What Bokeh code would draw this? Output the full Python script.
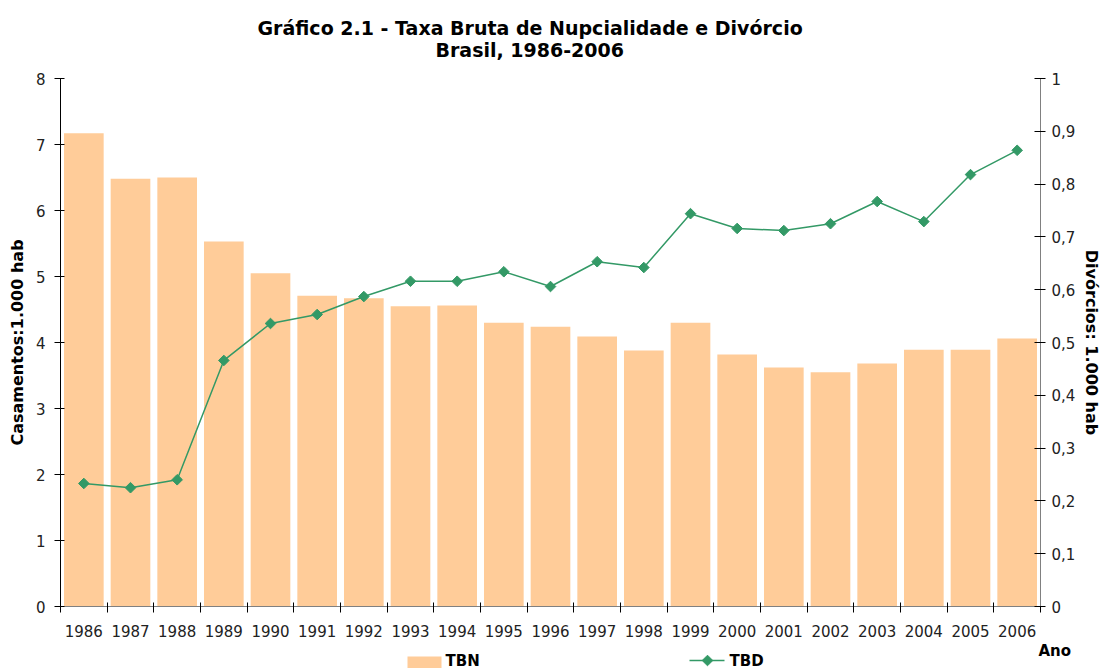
import numpy as np
from bokeh.plotting import figure
from bokeh.layouts import column
from bokeh.models import (Range1d, LinearAxis, FixedTicker, CustomJSTickFormatter,
                          Title, ColumnDataSource)
from bokeh.core.properties import value
from bokeh.embed import file_html
from bokeh.resources import INLINE

years = ["1986", "1987", "1988", "1989", "1990", "1991", "1992", "1993", "1994", "1995",
         "1996", "1997", "1998", "1999", "2000", "2001", "2002", "2003", "2004", "2005", "2006"]
tbn = [7.17, 6.48, 6.50, 5.53, 5.05, 4.71, 4.67, 4.55, 4.56, 4.30,
       4.24, 4.09, 3.88, 4.30, 3.82, 3.62, 3.55, 3.68, 3.89, 3.89, 4.06]
tbd = [0.233, 0.225, 0.240, 0.466, 0.536, 0.553, 0.587, 0.616, 0.616, 0.634,
       0.606, 0.653, 0.642, 0.744, 0.716, 0.712, 0.725, 0.767, 0.729, 0.818, 0.864]
left_ticks = [0, 1, 2, 3, 4, 5, 6, 7, 8]
right_ticks = [0, 0.1, 0.2, 0.3, 0.4, 0.5, 0.6, 0.7, 0.8, 0.9, 1.0]
series_names = ["TBN", "TBD"]
x_title = "Ano"

n = len(years)
centers = [i + 0.5 for i in range(n)]
bounds = list(range(n + 1))
src = ColumnDataSource(dict(x=centers, tbn=tbn, tbd=tbd))

FONT = "DejaVu Sans"
BAR = "#FFCC99"
GREEN = "#339966"

p = figure(width=1105, height=642, output_backend="svg", toolbar_location=None,
           x_range=Range1d(0, n), y_range=Range1d(0, 8),
           min_border_left=60, min_border_right=65, min_border_top=78, min_border_bottom=36)
p.extra_y_ranges = {"div": Range1d(0, 1)}
p.outline_line_color = None
p.xgrid.visible = False
p.ygrid.visible = False
p.background_fill_color = "white"
p.border_fill_color = "white"

p.vbar(x="x", top="tbn", width=0.85, source=src, fill_color=BAR, line_color=None)
p.line(x="x", y="tbd", source=src, y_range_name="div", line_color=GREEN, line_width=1.5)
p.scatter(x="x", y="tbd", source=src, y_range_name="div", marker="square", size=7.5,
          angle=np.pi / 4, fill_color=GREEN, line_color=GREEN)

# titles (outer: plot title, inner: added Title)
p.title.text = "Gráfico 2.1 - Taxa Bruta de Nupcialidade e Divórcio"
p.title.align = "left"
p.title.offset = 197
p.title.standoff = -32
p.title.vertical_align = "bottom"
p.title.text_font = FONT
p.title.text_font_size = "19px"
p.title.text_font_style = "bold"
p.title.text_color = "black"
sub = Title(text="Brasil, 1986-2006", align="left", offset=375, standoff=32, vertical_align="top",
            text_font=FONT, text_font_size="19px", text_font_style="bold", text_color="black")
p.add_layout(sub, "above")

# x axis
xa = p.xaxis[0]
xa.ticker = FixedTicker(ticks=centers, minor_ticks=bounds)
xa.major_label_overrides = {c: y for c, y in zip(centers, years)}
xa.major_tick_line_color = None
xa.minor_tick_in = 4
xa.minor_tick_out = 6
xa.minor_tick_line_color = "black"
xa.axis_line_color = "#808080"
xa.major_label_text_font = FONT
xa.major_label_text_font_size = "15px"
xa.major_label_text_color = "#222222"
xa.major_label_standoff = 12

# left axis
ya = p.yaxis[0]
ya.ticker = FixedTicker(ticks=left_ticks)
ya.minor_tick_line_color = None
ya.major_tick_in = 4
ya.major_tick_out = 6
ya.axis_line_color = "black"
ya.major_label_text_font = FONT
ya.major_label_text_font_size = "15px"
ya.major_label_text_color = "#222222"
ya.major_label_standoff = 9
ya.axis_label = "Casamentos:1.000 hab"
ya.axis_label_text_font = FONT
ya.axis_label_text_font_size = "16px"
ya.axis_label_text_font_style = "bold"
ya.axis_label_text_color = "black"
ya.axis_label_standoff = 6

# right axis
ra = LinearAxis(y_range_name="div")
ra.ticker = FixedTicker(ticks=right_ticks)
ra.formatter = CustomJSTickFormatter(code="""
if (Math.abs(tick - Math.round(tick)) < 1e-9) { return tick.toFixed(0); }
return tick.toFixed(1).replace('.', ',');
""")
ra.minor_tick_line_color = None
ra.major_tick_in = 6
ra.major_tick_out = 5
ra.axis_line_color = "#808080"
ra.major_label_text_font = FONT
ra.major_label_text_font_size = "15px"
ra.major_label_text_color = "#222222"
ra.major_label_standoff = 6
ra.axis_label = "Divórcios: 1.000 hab"
ra.axis_label_text_font = FONT
ra.axis_label_text_font_size = "16px"
ra.axis_label_text_font_style = "bold"
ra.axis_label_text_color = "black"
ra.axis_label_standoff = 4
p.add_layout(ra, "right")

# legend strip (pixel-coordinate figure below the chart)
unaligned = True
try:
    p.frame_align = False
except Exception:
    unaligned = False

if unaligned:
    strip_range = Range1d(0, 1105)
    ano_x, ano_align = 1038, "left"
else:
    strip_range = Range1d(60, 1040)
    ano_x, ano_align = 1039, "right"

lg = figure(width=1105, height=26, output_backend="svg", toolbar_location=None,
            x_range=strip_range, y_range=Range1d(26, 0),
            x_axis_type=None, y_axis_type=None,
            min_border_left=0, min_border_right=0, min_border_top=0, min_border_bottom=0)
if unaligned:
    lg.frame_align = False
lg.grid.visible = False
lg.outline_line_color = None
lg.title.visible = False
lg.quad(left=[407], right=[441], top=[14], bottom=[26], fill_color=BAR, line_color=None)
lg.line(x=[689, 724], y=[18, 18], line_color=GREEN, line_width=1.5)
lg.scatter(x=[707], y=[18], marker="square", size=7.5, angle=np.pi / 4,
           fill_color=GREEN, line_color=GREEN)
lg.text(x=[445, 729], y=[18, 18], text=series_names, text_font=value(FONT),
        text_font_size=value("15px"), text_font_style="bold", text_color="black",
        text_baseline="middle", text_align="left")
lg.text(x=[ano_x], y=[8], text=[x_title], text_font=value(FONT),
        text_font_size=value("15px"), text_font_style="bold", text_color="black",
        text_baseline="middle", text_align=ano_align)

layout = column(p, lg, spacing=0)
open("out.html", "w").write(file_html(layout, INLINE))
